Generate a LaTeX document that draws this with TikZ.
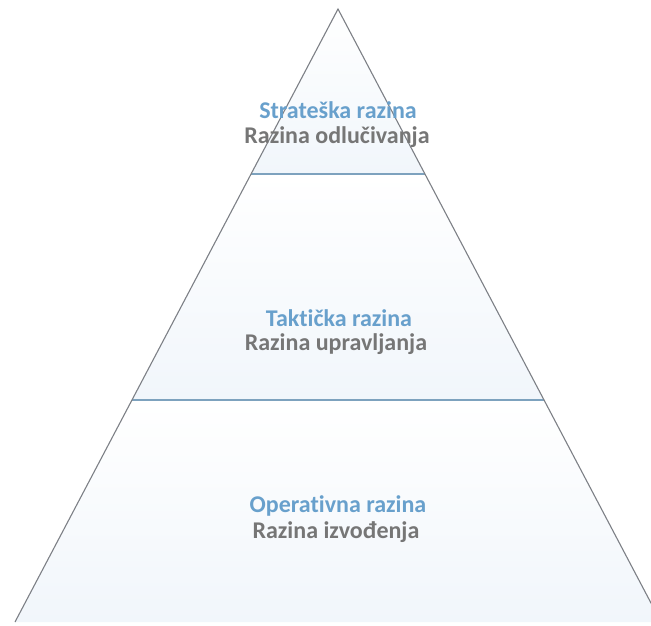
\documentclass[tikz,border=0pt]{standalone}
\usepackage{fontspec}
\setmainfont{Carlito}[Ligatures=NoCommon]
\usetikzlibrary{calc}
\definecolor{edgegray}{RGB}{125,128,134}
\definecolor{cutblue}{RGB}{125,162,190}
\definecolor{titleblue}{RGB}{104,160,204}
\definecolor{subgray}{RGB}{118,118,118}
\definecolor{bandblue}{RGB}{241,246,251}
\tikzset{
  level title/.style={font=\bfseries\fontsize{24}{27}\selectfont, text=titleblue, inner sep=0pt},
  level sub/.style={font=\bfseries\fontsize{24}{27}\selectfont, text=subgray, inner sep=0pt},
}
\begin{document}
\begin{tikzpicture}[x=1pt, y=-1pt]
  \useasboundingbox (0,0) rectangle (651,626);
  \clip (0,0) rectangle (651,626);
  \def\Xm{338};
  \def\Ytop{9};
  \def\Yc{174}; % upper cut
  \def\Yd{400}; % lower cut
  \def\Yb{622}; % base

  % corners
  \coordinate (apex) at (\Xm, \Ytop);
  \coordinate (bl) at (15, \Yb);
  \coordinate (br) at (661, \Yb);
  \coordinate (cl) at ($(apex)!{(\Yc-\Ytop)/(\Yb-\Ytop)}!(bl)$);
  \coordinate (cr) at ($(apex)!{(\Yc-\Ytop)/(\Yb-\Ytop)}!(br)$);
  \coordinate (dl) at ($(apex)!{(\Yd-\Ytop)/(\Yb-\Ytop)}!(bl)$);
  \coordinate (dr) at ($(apex)!{(\Yd-\Ytop)/(\Yb-\Ytop)}!(br)$);

  % bands
  \shade[top color=white, bottom color=bandblue] (apex) -- (cl) -- (cr) -- cycle;
  \shade[top color=white, bottom color=bandblue] (cl) -- (dl) -- (dr) -- (cr) -- cycle;
  \shade[top color=white, bottom color=bandblue] (dl) -- (bl) -- (br) -- (dr) -- cycle;

  % cuts
  \draw[cutblue, line width=1.1pt] (cl) -- (cr);
  \draw[cutblue, line width=1.1pt] (dl) -- (dr);

  % sides
  \draw[edgegray, line width=1.1pt] (bl) -- (apex) -- (br);

  % labels
  \node[level title] (strat) at (\Xm, 110) {Strateška razina};
  \node[level sub] (odluc) at (\Xm - 1, 137) {Razina odlučivanja};
  \node[level title] (takt) at (\Xm + 1, 318) {Taktička razina};
  \node[level sub] (uprav) at (\Xm - 2, 344) {Razina upravljanja};
  \node[level title] (oper) at (\Xm, 506) {Operativna razina};
  \node[level sub] (izvod) at (\Xm - 2, 532) {Razina izvođenja};
\end{tikzpicture}
\end{document}
